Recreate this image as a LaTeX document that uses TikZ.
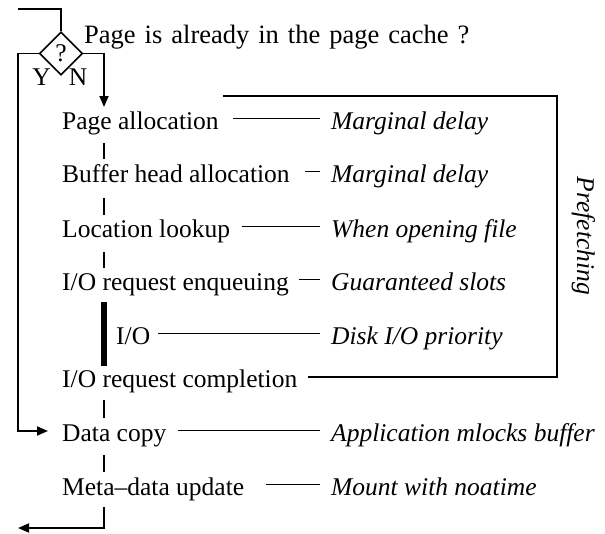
\documentclass[tikz,border=0pt]{standalone}
\usepackage{fontspec}
\setmainfont{Liberation Serif}
\usetikzlibrary{arrows.meta,shapes.geometric}
\begin{document}
\begin{tikzpicture}[x=1pt,y=-1pt,
  txt/.style={inner sep=0pt,anchor=base west,font=\fontsize{25.5}{30}\selectfont},
  lbl/.style={txt,font=\fontsize{25.5}{30}\selectfont\itshape},
  flow/.style={line width=1.8pt},
  tick/.style={line width=1.4pt},
  conn/.style={line width=1pt},
  bar/.style={line width=6pt},
  tip/.style={-{Triangle[length=11pt,width=9pt]}}
]
\useasboundingbox (0,0) rectangle (605,533);
% decision
\node[diamond,draw,line width=1.6pt,inner sep=0pt,minimum width=43pt,minimum height=43pt,aspect=1,font=\fontsize{25.5}{30}\selectfont] (q) at (61,53.5) {?};
\node[txt,font=\fontsize{26.5}{30}\selectfont] (title) at (84,43) {\spaceskip=9pt Page is already in the page cache ?};
\node[txt,anchor=base] (Y) at (41.5,85) {Y};
\node[txt,anchor=base] (N) at (78,85) {N};
% items
\node[txt] (pa) at (62,129) {Page allocation};
\node[txt] (bh) at (62,182) {Buffer head allocation};
\node[txt] (ll) at (62,237) {Location lookup};
\node[txt] (en) at (62,290) {I/O request enqueuing};
\node[txt] (io) at (116,344) {I/O};
\node[txt] (co) at (62,387) {I/O request completion};
\node[txt] (dc) at (62,441) {Data copy};
\node[txt] (md) at (62,495) {Meta--data update};
% labels
\node[lbl] (lpa) at (331,129) {Marginal delay};
\node[lbl] (lbh) at (331,182) {Marginal delay};
\node[lbl] (lll) at (331,237) {When opening file};
\node[lbl] (len) at (331,290) {Guaranteed slots};
\node[lbl] (lio) at (331,344) {Disk I/O priority};
\node[lbl] (ldc) at (331,441) {Application mlocks buffer};
\node[lbl] (lmd) at (331,495) {Mount with noatime};
\node[lbl,anchor=base,rotate=-90] (pf) at (577,236) {Prefetching};
% coordinates
\coordinate (in0) at (18,9);
\coordinate (in1) at (61,9);
\coordinate (yl) at (18,53.5);
\coordinate (yb) at (18,431);
\coordinate (nr) at (104,53.5);
\coordinate (ntip) at (104,107);
\coordinate (boxtl) at (223,96);
\coordinate (boxtr) at (557,96);
\coordinate (boxbr) at (557,377);
\coordinate (out0) at (104,507);
\coordinate (out1) at (104,528);
\coordinate (out2) at (18,528);
% flow lines
\draw[flow] (in0) -- (in1) -- (q.north);
\draw[flow,tip] (q.west) -- (yl) -- (yb) -- ([shift={(-14,-10)}]dc.base west);
\draw[flow,tip] (q.east) -- (nr) -- (ntip);
\draw[flow,tip] (out0) -- (out1) -- (out2);
% ticks
\draw[tick] (104,143) -- (104,159);
\draw[tick] (104,198) -- (104,215);
\draw[tick] (104,252) -- (104,268);
\draw[bar] (104,302) -- (104,366);
\draw[tick] (104,400) -- (104,418);
\draw[tick] (104,455) -- (104,472);
% connectors to labels
\draw[conn] ([shift={(14,-10.5)}]pa.base east) -- ([shift={(-11,-10.5)}]lpa.base west);
\draw[conn] ([shift={(15,-10.5)}]bh.base east) -- ([shift={(-11,-10.5)}]lbh.base west);
\draw[conn] ([shift={(12,-10.5)}]ll.base east) -- ([shift={(-11,-10.5)}]lll.base west);
\draw[conn] ([shift={(10,-10.5)}]en.base east) -- ([shift={(-11,-10.5)}]len.base west);
\draw[conn] ([shift={(8,-10.5)}]io.base east) -- ([shift={(-11,-10.5)}]lio.base west);
\draw[conn] ([shift={(12,-10.5)}]dc.base east) -- ([shift={(-11,-10.5)}]ldc.base west);
\draw[conn] ([shift={(22,-10.5)}]md.base east) -- ([shift={(-11,-10.5)}]lmd.base west);
% prefetch box
\draw[flow] (boxtl) -- (boxtr) -- (boxbr) -- ([shift={(10,-10)}]co.base east);
\end{tikzpicture}
\end{document}
